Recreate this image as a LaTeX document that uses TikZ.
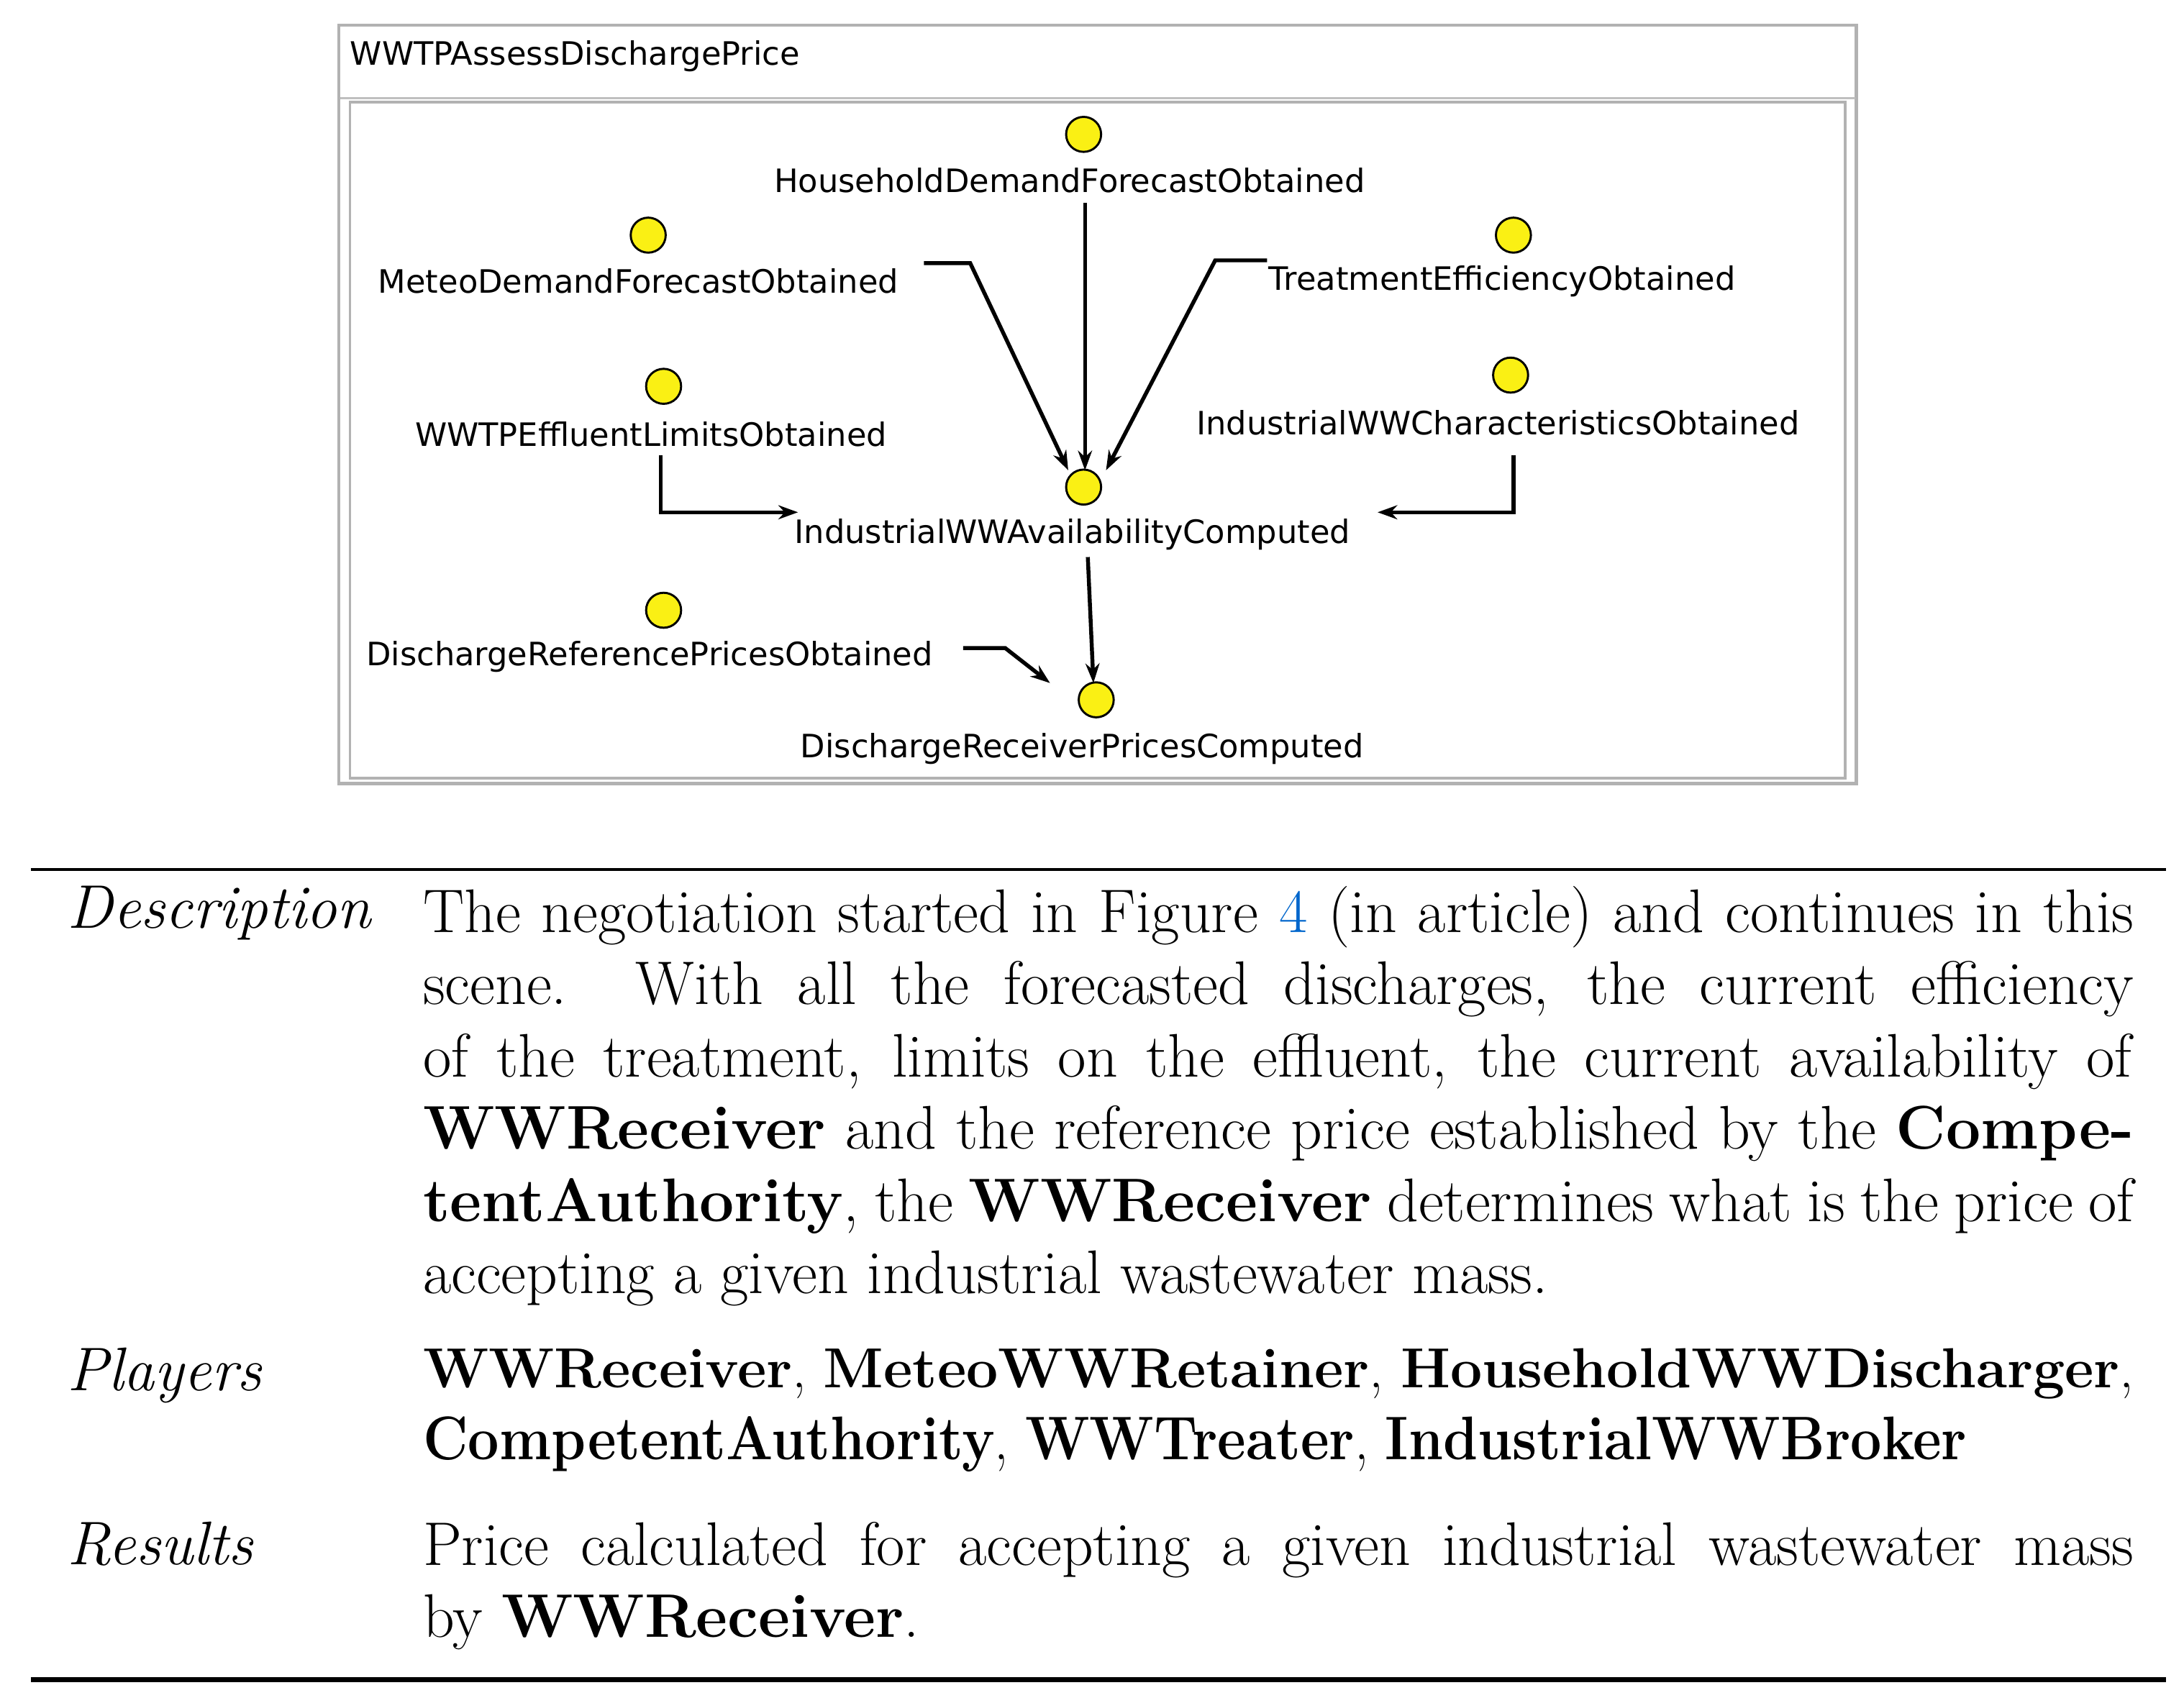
\documentclass[tikz,border=0pt]{standalone}
\usepackage{fontspec}
\newfontfamily\lab{DejaVu Sans}
\usetikzlibrary{arrows.meta}
\definecolor{linkblue}{RGB}{0,102,204}
\definecolor{dotyel}{RGB}{250,240,20}
\begin{document}
\begin{tikzpicture}[x=1pt,y=-1pt,
 dot/.style={circle,draw=black,line width=1.5pt,fill=dotyel,minimum size=25pt,inner sep=0pt},
 lbl/.style={font=\lab\fontsize{23}{27}\selectfont,inner sep=0pt},
 arr/.style={line width=2.8pt,-{Stealth[length=14pt,width=10pt]}},
 body/.style={anchor=north west,inner sep=0pt,font=\fontsize{44}{51.6}\selectfont},
 hd/.style={anchor=north west,inner sep=0pt,font=\fontsize{44}{51.6}\selectfont\itshape}]
\useasboundingbox (0,0) rectangle (1560,1213);
\fill[white] (0,0) rectangle (1560,1213);
% frame
\draw[gray!60,line width=2.5pt] (242,18) rectangle (1326,560);
\draw[gray!50,line width=1.5pt] (243,70) -- (1325,70);
\draw[gray!60,line width=2pt] (250,73) rectangle (1318,556);
\node[lbl,anchor=west] (title) at (250,40) {WWTPAssessDischargePrice};
% nodes
\node[dot] (hh) at (774,96) {};
\node[lbl] (hhl) at (764,129) {HouseholdDemandForecastObtained};
\node[dot] (me) at (463,168) {};
\node[lbl] (mel) at (456,201) {MeteoDemandForecastObtained};
\node[dot] (te) at (1081,168) {};
\node[lbl] (tel) at (1073,201) {TreatmentEfficiencyObtained};
\node[dot] (ef) at (474,276) {};
\node[lbl] (efl) at (465,310) {WWTPEffluentLimitsObtained};
\node[dot] (ic) at (1079,268) {};
\node[lbl] (icl) at (1070,302) {IndustrialWWCharacteristicsObtained};
\node[dot] (ia) at (774,348) {};
\node[lbl] (ial) at (766,382) {IndustrialWWAvailabilityComputed};
\node[dot] (dr) at (474,436) {};
\node[lbl] (drl) at (464,469) {DischargeReferencePricesObtained};
\node[dot] (dp) at (783,500) {};
\node[lbl] (dpl) at (773,535) {DischargeReceiverPricesComputed};
% connectors
\coordinate (a1) at (775,145);
\draw[arr] (a1) -- (775,336);
\coordinate (a2) at (660,188);
\draw[arr] (a2) -- (693,188) -- (763,336);
\coordinate (a3) at (905,186);
\draw[arr] (a3) -- (868,186) -- (790,336);
\coordinate (a4) at (472,325);
\draw[arr] (a4) -- (472,366) -- (570,366);
\coordinate (a5) at (1081,325);
\draw[arr] (a5) -- (1081,366) -- (984,366);
\coordinate (a6) at (777,398);
\draw[arr] (a6) -- (781,488);
\coordinate (a7) at (688,463);
\draw[arr] (a7) -- (718,463) -- (750,488);
% table
\draw[line width=2pt] (22,621) -- (1547,621);
\draw[line width=3.5pt] (22,1200) -- (1547,1200);
\node[hd] (h1) at (48,633) {Description};
\node[body] (b1) at (302,633) {\parbox[t]{1222pt}{The negotiation started in Figure {\color{linkblue}4} (in article) and continues in this\linebreak
scene.\ \ With all the forecasted discharges, the current efficiency\linebreak
of the treatment, limits on the effluent, the current availability of\linebreak
\textbf{WWReceiver} and the reference price established by the \textbf{Compe-}\linebreak
\textbf{tentAuthority}, the \textbf{WWReceiver} determines what is the price of\linebreak
accepting a given industrial wastewater mass.}};
\node[hd] (h2) at (48,963) {Players};
\node[body] (b2) at (302,963) {\parbox[t]{1222pt}{\resizebox{1222pt}{!}{\textbf{WWReceiver}, \textbf{MeteoWWRetainer}, \textbf{HouseholdWWDischarger},}\\
\scalebox{0.9}[1]{\textbf{CompetentAuthority}, \textbf{WWTreater}, \textbf{IndustrialWWBroker}}}};
\node[hd] (h3) at (48,1087) {Results};
\node[body] (b3) at (302,1087) {\parbox[t]{1222pt}{Price calculated for accepting a given industrial wastewater mass\linebreak
by \textbf{WWReceiver}.}};
\end{tikzpicture}
\end{document}
